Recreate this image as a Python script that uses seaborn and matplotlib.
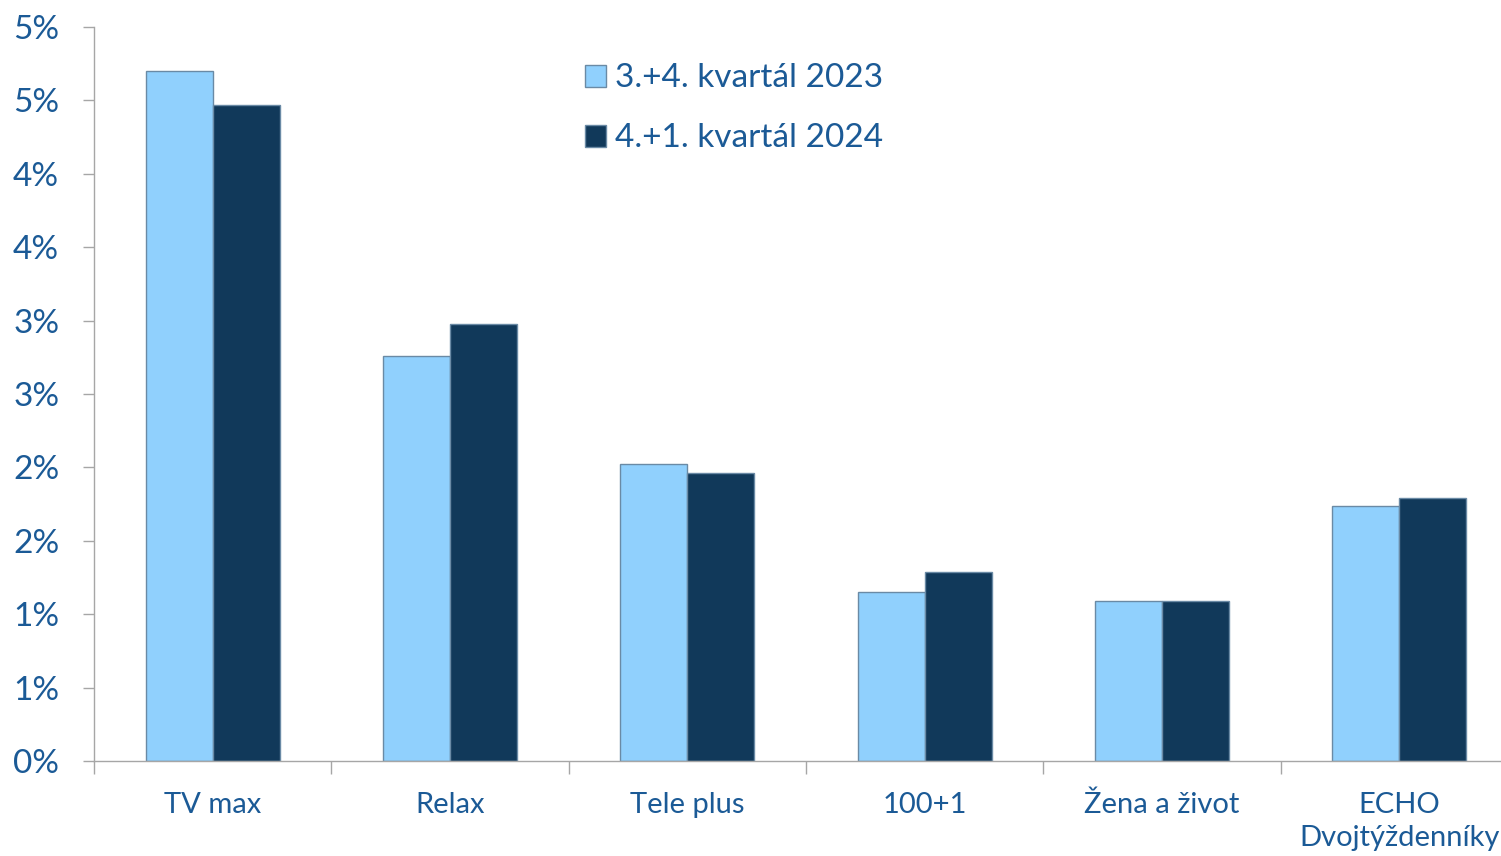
import pandas as pd
import seaborn as sns
import matplotlib.pyplot as plt
from matplotlib.ticker import FixedLocator

# Data (percent)
categories = ['TV max', 'Relax', 'Tele plus', '100+1', 'Žena a život', 'ECHO\nDvojtýždenníky']
series_names = ['3.+4. kvartál 2023', '4.+1. kvartál 2024']
values_2023 = [4.70, 2.76, 2.02, 1.15, 1.09, 1.74]
values_2024 = [4.47, 2.98, 1.96, 1.29, 1.09, 1.79]
y_ticks = [0, 0.5, 1, 1.5, 2, 2.5, 3, 3.5, 4, 4.5, 5]
y_tick_labels = ['0%', '1%', '1%', '2%', '2%', '3%', '3%', '4%', '4%', '5%', '5%']

light = '#90D0FD'
dark = '#11395A'
text_color = '#1B5A96'
axis_color = '#A6A6A6'

df = pd.DataFrame({
    'cat': categories * 2,
    'period': [series_names[0]] * len(categories) + [series_names[1]] * len(categories),
    'val': values_2023 + values_2024,
})

sns.set_style('white')
plt.rcParams['font.family'] = ['Lato', 'DejaVu Sans']

fig = plt.figure(figsize=(15.01, 8.56), dpi=100)
ax = fig.add_axes([94 / 1501, 95 / 856, 1424 / 1501, 734 / 856])

sns.barplot(data=df, x='cat', y='val', hue='period', palette=[light, dark],
            width=0.565, saturation=1, ax=ax, errorbar=None,
            edgecolor='#6A8AA5', linewidth=1.0)

ax.set_xlim(-0.5, len(categories) - 0.5)
ax.set_ylim(0, 5)
ax.set_yticks(y_ticks)
ax.set_yticklabels(y_tick_labels, fontsize=24, color=text_color)
ax.tick_params(axis='y', direction='out', length=8, width=1, color=axis_color, pad=17, left=True)

ax.set_xticks(range(len(categories)))
ax.set_xticklabels(categories, fontsize=21, color=text_color, linespacing=1.35)
ax.tick_params(axis='x', which='major', length=0, pad=22)
ax.xaxis.set_minor_locator(FixedLocator([i - 0.5 for i in range(len(categories) + 1)]))
ax.tick_params(axis='x', which='minor', direction='out', length=9, width=1, color=axis_color, bottom=True)

for s in ['top', 'right']:
    ax.spines[s].set_visible(False)
for s in ['left', 'bottom']:
    ax.spines[s].set_color(axis_color)
    ax.spines[s].set_linewidth(1)

ax.set_xlabel('')
ax.set_ylabel('')

leg = ax.legend(loc='upper left', bbox_to_anchor=(572 / 1501, 1 - 50 / 856),
                bbox_transform=fig.transFigure, frameon=False, fontsize=24,
                handlelength=0.63, handleheight=0.63, handletextpad=0.25,
                labelspacing=0.9, borderaxespad=0)
for t in leg.get_texts():
    t.set_color(text_color)

plt.savefig('out.png', dpi=100)
